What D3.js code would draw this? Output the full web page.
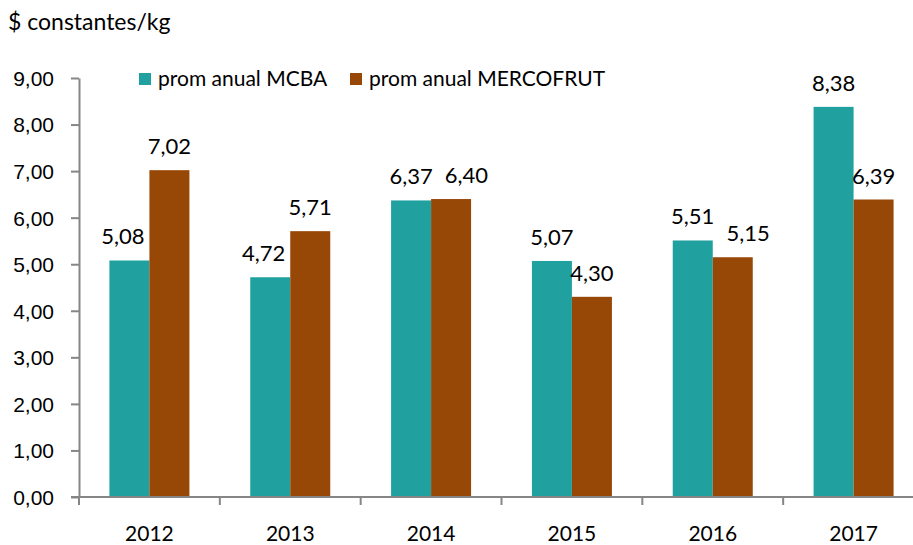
<!DOCTYPE html>
<html>
<head>
<meta charset="utf-8" />
<script src="https://cdn.jsdelivr.net/npm/d3@7"></script>
<style>
body { margin: 0; background: #fff; }
svg { display: block; font-family: Lato, "Open Sans", sans-serif; }
.tick text { font-size: 21px; fill: #000; }
.domain, .tick line { stroke: #868686; stroke-width: 2px; }
</style>
</head>
<body>
<script>
var years = ["2012", "2013", "2014", "2015", "2016", "2017"];
var series = ["prom anual MCBA", "prom anual MERCOFRUT"];
var mcba = [5.08, 4.72, 6.37, 5.07, 5.51, 8.38];
var mercofrut = [7.02, 5.71, 6.40, 4.30, 5.15, 6.39];
var yTicks = [0, 1, 2, 3, 4, 5, 6, 7, 8, 9];
var colors = ["#21A0A0", "#974706"];

var width = 913, height = 545;
var margin = {left: 79, top: 78, bottom: 48};
var plotRight = 924;

var fmt = function(v) { return v.toFixed(2).replace(".", ","); };

var svg = d3.select("body").append("svg")
  .attr("width", width).attr("height", height);

var x = d3.scaleBand().domain(years).range([margin.left, plotRight]);
var y = d3.scaleLinear().domain([0, 9]).range([height - margin.bottom, margin.top]);
var barW = 40;

var data = [mcba, mercofrut];
var labels = [];

// bars + value labels
data.forEach(function(vals, s) {
  var g = svg.append("g");
  g.selectAll("rect").data(vals).enter().append("rect")
    .attr("x", function(d, i) { return x(years[i]) + x.bandwidth() / 2 - barW + s * barW; })
    .attr("y", function(d) { return y(d); })
    .attr("width", barW)
    .attr("height", function(d) { return y(0) - y(d); })
    .attr("fill", colors[s]);
  labels[s] = g.selectAll("text").data(vals).enter().append("text")
    .attr("x", function(d, i) { return x(years[i]) + x.bandwidth() / 2 - barW / 2 + s * barW; })
    .attr("y", function(d) { return y(d) - 16; })
    .attr("text-anchor", "middle")
    .style("font-size", "22px")
    .text(fmt);
});

// keep labels off the neighbour bar and off each other
var aNodes = labels[0].nodes(), bNodes = labels[1].nodes();
years.forEach(function(yr, i) {
  var a = aNodes[i], b = bNodes[i];
  var ba = a.getBBox(), bb = b.getBBox();
  var mid = x(yr) + x.bandwidth() / 2;
  if (ba.x + ba.width > mid - 2 && ba.y + ba.height > y(mercofrut[i])) {
    var dx = (mid - 5) - (ba.x + ba.width);
    a.setAttribute("x", +a.getAttribute("x") + dx);
    ba = a.getBBox();
  }
  var vOverlap = ba.y < bb.y + bb.height && bb.y < ba.y + ba.height;
  if (vOverlap && ba.x + ba.width + 12 > bb.x) {
    var dx2 = ba.x + ba.width + 12 - bb.x;
    b.setAttribute("x", +b.getAttribute("x") + dx2);
  }
});

// y axis
svg.append("g")
  .attr("transform", "translate(" + margin.left + ",0)")
  .call(d3.axisLeft(y).tickValues(yTicks).tickFormat(fmt).tickSize(8).tickPadding(17).tickSizeOuter(0))
  .call(function(g) { g.selectAll(".tick text").attr("dy", "0.35em"); });

// x axis
var xAxis = svg.append("g")
  .attr("transform", "translate(0," + y(0) + ")");
xAxis.append("line")
  .attr("x1", margin.left - 8).attr("x2", plotRight)
  .attr("stroke", "#868686").attr("stroke-width", 2);
var bounds = years.map(function(d) { return x(d); });
xAxis.selectAll("line.tk").data(bounds).enter().append("line")
  .attr("class", "tk")
  .attr("x1", function(d) { return d; }).attr("x2", function(d) { return d; })
  .attr("y1", 0).attr("y2", 8)
  .attr("stroke", "#868686").attr("stroke-width", 2);
xAxis.selectAll("text").data(years).enter().append("text")
  .attr("x", function(d) { return x(d) + x.bandwidth() / 2; })
  .attr("y", 44)
  .attr("text-anchor", "middle")
  .style("font-size", "21px")
  .text(function(d) { return d; });

// axis title
svg.append("text")
  .attr("x", 8).attr("y", 30)
  .style("font-size", "23px")
  .text("$ constantes/kg");

// legend
var legX = [139, 350];
var leg = svg.append("g");
series.forEach(function(name, i) {
  leg.append("rect")
    .attr("x", legX[i]).attr("y", 73).attr("width", 12).attr("height", 12)
    .attr("fill", colors[i]);
  leg.append("text")
    .attr("x", legX[i] + 19).attr("y", 86)
    .style("font-size", "21px")
    .text(name);
});
</script>
</body>
</html>
